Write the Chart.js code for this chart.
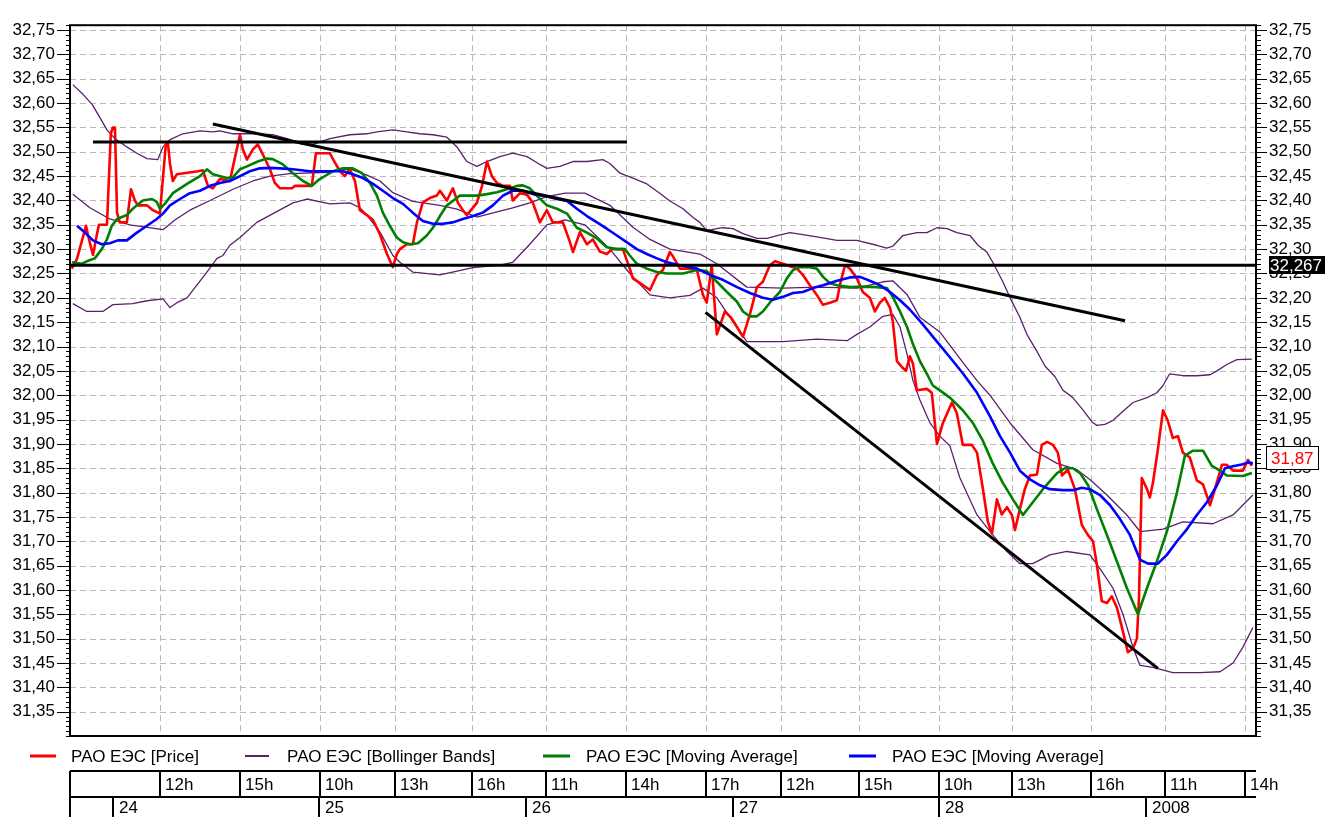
<!DOCTYPE html>
<html>
<head>
<meta charset="utf-8">
<script src="https://cdn.jsdelivr.net/npm/chart.js@4.4.1/dist/chart.umd.min.js"></script>
<style>
  html, body { margin: 0; padding: 0; background: #fff; }
  canvas { display: block; }
</style>
</head>
<body>
<canvas id="c" width="1325" height="817"></canvas>
<script>
// ---- x unit: trading hours (8-hour sessions 10:00-18:00), 0 = day 24, 09:00 ----
const hourTickPos = [3.0, 6.1, 9.19, 12.1, 15.08, 17.94, 21.04, 24.14, 27.04, 30.06, 33.16, 35.98, 39.04, 41.91, 45.01];
const hourTickLabels = ['12h','15h','10h','13h','16h','11h','14h','17h','12h','15h','10h','13h','16h','11h','14h'];
const dayStartPos = [1.17, 9.17, 17.17, 25.17, 33.17, 41.17];
const dayLabels = ['24','25','26','27','28','2008'];
const yTicks = [31.35,31.40,31.45,31.50,31.55,31.60,31.65,31.70,31.75,31.80,31.85,31.90,31.95,32.00,32.05,32.10,32.15,32.20,32.25,32.30,32.35,32.40,32.45,32.50,32.55,32.60,32.65,32.70,32.75];
const seriesNames = ['РАО ЕЭС [Price]','РАО ЕЭС [Bollinger Bands]','РАО ЕЭС [Moving Average]','РАО ЕЭС [Moving Average]'];
const lastPrice = 31.87;
const pivotLevel = 32.267;

const price = [[-0.41,32.26],[-0.21,32.28],[0.14,32.348],[0.21,32.33],[0.41,32.288],[0.56,32.33],[0.64,32.35],[0.95,32.35],[1.10,32.537],[1.18,32.55],[1.26,32.55],[1.34,32.375],[1.45,32.355],[1.72,32.355],[1.88,32.423],[2.03,32.40],[2.15,32.39],[2.50,32.39],[2.73,32.38],[3.00,32.373],[3.23,32.515],[3.31,32.517],[3.39,32.476],[3.50,32.44],[3.66,32.454],[4.47,32.46],[4.66,32.462],[4.86,32.43],[5.05,32.425],[5.32,32.444],[5.71,32.44],[5.83,32.47],[6.10,32.535],[6.21,32.505],[6.37,32.484],[6.60,32.505],[6.79,32.515],[6.99,32.494],[7.26,32.464],[7.45,32.436],[7.65,32.425],[8.11,32.425],[8.23,32.43],[8.88,32.43],[9.04,32.497],[9.58,32.497],[9.70,32.485],[9.97,32.46],[10.16,32.45],[10.35,32.465],[10.55,32.44],[10.74,32.38],[11.01,32.37],[11.25,32.36],[11.52,32.33],[11.79,32.29],[12.02,32.263],[12.17,32.29],[12.29,32.30],[12.56,32.31],[12.79,32.31],[12.95,32.355],[13.18,32.396],[13.45,32.405],[13.72,32.41],[13.84,32.42],[14.11,32.40],[14.34,32.425],[14.54,32.395],[14.73,32.38],[14.88,32.37],[15.27,32.395],[15.47,32.43],[15.66,32.48],[15.85,32.45],[16.05,32.436],[16.28,32.43],[16.55,32.43],[16.66,32.40],[16.94,32.415],[17.21,32.412],[17.44,32.395],[17.71,32.355],[17.98,32.38],[18.21,32.355],[18.60,32.355],[18.87,32.315],[18.99,32.294],[19.26,32.335],[19.53,32.31],[19.76,32.32],[20.03,32.295],[20.30,32.29],[20.50,32.30],[20.92,32.30],[21.19,32.26],[21.31,32.24],[21.70,32.226],[21.97,32.216],[22.24,32.247],[22.47,32.257],[22.74,32.294],[22.86,32.285],[23.13,32.26],[23.52,32.26],[23.79,32.257],[24.02,32.206],[24.17,32.19],[24.36,32.267],[24.56,32.125],[24.87,32.172],[25.10,32.16],[25.34,32.14],[25.57,32.12],[25.84,32.166],[26.11,32.222],[26.34,32.233],[26.61,32.267],[26.81,32.275],[27.12,32.27],[27.39,32.265],[27.66,32.26],[27.89,32.247],[28.16,32.226],[28.43,32.206],[28.66,32.186],[28.94,32.19],[29.21,32.195],[29.32,32.226],[29.52,32.267],[29.71,32.26],[29.98,32.24],[30.21,32.212],[30.48,32.20],[30.68,32.172],[30.87,32.19],[31.06,32.20],[31.26,32.18],[31.37,32.152],[31.53,32.07],[31.72,32.058],[31.88,32.05],[32.03,32.08],[32.15,32.065],[32.30,32.01],[32.69,32.013],[32.88,32.005],[33.08,31.90],[33.31,31.943],[33.66,31.985],[33.85,31.963],[34.08,31.898],[34.43,31.898],[34.63,31.882],[34.86,31.807],[35.05,31.74],[35.21,31.716],[35.40,31.786],[35.59,31.755],[35.79,31.77],[35.98,31.754],[36.10,31.723],[36.29,31.766],[36.48,31.807],[36.68,31.835],[36.95,31.837],[37.14,31.898],[37.34,31.904],[37.57,31.898],[37.76,31.882],[37.92,31.835],[38.15,31.847],[38.42,31.807],[38.69,31.733],[38.92,31.713],[39.12,31.70],[39.27,31.652],[39.46,31.577],[39.66,31.573],[39.85,31.587],[40.05,31.563],[40.24,31.523],[40.47,31.472],[40.67,31.48],[40.82,31.50],[40.90,31.583],[41.01,31.83],[41.21,31.807],[41.32,31.79],[41.44,31.82],[41.63,31.888],[41.83,31.969],[42.02,31.947],[42.21,31.912],[42.41,31.916],[42.60,31.882],[42.87,31.872],[43.14,31.825],[43.38,31.817],[43.65,31.774],[43.84,31.807],[44.11,31.857],[44.30,31.857],[44.54,31.845],[44.92,31.845],[45.12,31.867],[45.27,31.855]];

const fastMA = [[-0.41,32.273],[-0.02,32.27],[0.17,32.275],[0.48,32.281],[0.75,32.30],[0.95,32.32],[1.14,32.348],[1.34,32.362],[1.72,32.37],[1.95,32.383],[2.34,32.40],[2.69,32.403],[2.88,32.397],[3.00,32.383],[3.19,32.393],[3.50,32.415],[4.05,32.434],[4.55,32.45],[4.82,32.464],[5.05,32.454],[5.59,32.446],[5.83,32.448],[6.10,32.464],[6.37,32.47],[6.79,32.48],[7.14,32.486],[7.37,32.485],[7.76,32.474],[8.15,32.456],[8.54,32.44],[8.88,32.43],[9.19,32.444],[9.70,32.46],[10.08,32.466],[10.47,32.466],[10.82,32.456],[11.13,32.436],[11.40,32.41],[11.63,32.375],[11.90,32.348],[12.17,32.324],[12.41,32.314],[12.68,32.31],[12.99,32.312],[13.33,32.328],[13.57,32.344],[13.84,32.368],[14.11,32.39],[14.34,32.399],[14.61,32.41],[15.27,32.41],[15.66,32.413],[16.05,32.417],[16.43,32.423],[16.82,32.43],[17.05,32.431],[17.32,32.425],[17.59,32.41],[17.98,32.39],[18.37,32.383],[18.76,32.373],[19.14,32.344],[19.53,32.334],[19.92,32.322],[20.30,32.304],[20.69,32.30],[21.00,32.30],[21.19,32.287],[21.46,32.27],[21.85,32.26],[22.24,32.253],[22.63,32.25],[23.25,32.25],[23.79,32.257],[24.17,32.255],[24.56,32.233],[24.95,32.212],[25.34,32.192],[25.57,32.172],[25.84,32.162],[26.11,32.162],[26.34,32.172],[26.61,32.19],[27.00,32.212],[27.27,32.24],[27.51,32.257],[27.78,32.263],[28.16,32.263],[28.43,32.26],[28.67,32.243],[28.94,32.23],[29.21,32.226],[29.71,32.222],[30.21,32.223],[30.75,32.222],[31.14,32.22],[31.37,32.202],[31.65,32.172],[31.92,32.14],[32.15,32.105],[32.42,32.07],[32.69,32.044],[32.92,32.02],[33.19,32.01],[33.58,31.995],[34.08,31.969],[34.47,31.943],[34.86,31.906],[35.24,31.86],[35.63,31.82],[36.02,31.786],[36.41,31.754],[36.79,31.78],[37.18,31.807],[37.73,31.84],[38.03,31.85],[38.34,31.85],[38.62,31.84],[38.93,31.815],[39.27,31.766],[39.66,31.713],[40.05,31.658],[40.43,31.604],[40.86,31.55],[41.21,31.604],[41.59,31.658],[41.98,31.72],[42.37,31.80],[42.68,31.876],[42.99,31.886],[43.38,31.886],[43.72,31.855],[44.04,31.845],[44.30,31.835],[44.92,31.834],[45.27,31.84]];

const slowMA = [[-0.21,32.348],[0.10,32.334],[0.41,32.318],[0.75,32.31],[1.06,32.312],[1.37,32.318],[1.72,32.318],[2.11,32.334],[2.50,32.348],[2.88,32.362],[3.12,32.373],[3.39,32.39],[3.78,32.403],[4.16,32.415],[4.55,32.42],[4.94,32.43],[5.32,32.436],[5.71,32.44],[6.10,32.45],[6.48,32.46],[6.87,32.466],[7.26,32.467],[7.65,32.466],[8.15,32.464],[8.81,32.46],[9.58,32.46],[10.08,32.46],[10.47,32.454],[10.86,32.446],[11.25,32.434],[11.63,32.42],[12.02,32.405],[12.41,32.393],[12.79,32.375],[13.18,32.358],[13.57,32.352],[13.95,32.352],[14.34,32.355],[14.73,32.362],[15.12,32.368],[15.50,32.375],[15.89,32.39],[16.28,32.41],[16.66,32.42],[17.05,32.42],[17.44,32.413],[17.83,32.41],[18.37,32.403],[18.76,32.399],[19.14,32.383],[19.53,32.368],[19.92,32.355],[20.30,32.342],[20.69,32.328],[21.08,32.314],[21.46,32.30],[21.85,32.29],[22.24,32.281],[22.63,32.273],[23.13,32.267],[23.79,32.26],[24.29,32.247],[24.79,32.237],[25.34,32.222],[25.84,32.21],[26.34,32.20],[26.73,32.196],[27.12,32.202],[27.51,32.21],[27.89,32.212],[28.28,32.22],[28.67,32.226],[29.21,32.235],[29.71,32.242],[30.10,32.243],[30.48,32.235],[30.87,32.226],[31.26,32.212],[31.65,32.195],[32.03,32.176],[32.54,32.145],[33.08,32.11],[33.58,32.078],[34.08,32.045],[34.63,32.005],[35.13,31.957],[35.52,31.916],[35.91,31.882],[36.29,31.845],[36.68,31.827],[37.07,31.815],[37.45,31.807],[37.96,31.805],[38.34,31.805],[38.69,31.81],[39.00,31.807],[39.39,31.795],[39.78,31.774],[40.16,31.746],[40.55,31.713],[40.94,31.662],[41.25,31.654],[41.63,31.654],[41.98,31.672],[42.37,31.70],[42.76,31.725],[43.14,31.754],[43.53,31.78],[43.92,31.815],[44.23,31.85],[44.54,31.854],[44.92,31.858],[45.12,31.862],[45.31,31.86]];

const bbUpper = [[-0.37,32.638],[0.02,32.618],[0.37,32.598],[0.68,32.57],[0.95,32.545],[1.26,32.527],[1.72,32.51],[2.11,32.497],[2.50,32.486],[2.92,32.484],[3.12,32.51],[3.39,32.525],[3.89,32.537],[4.55,32.543],[5.05,32.541],[5.32,32.543],[5.83,32.537],[6.60,32.537],[7.37,32.535],[7.92,32.527],[8.42,32.517],[8.92,32.515],[9.58,32.527],[10.35,32.535],[11.01,32.537],[11.40,32.541],[12.02,32.545],[12.56,32.541],[13.06,32.537],[13.57,32.535],[14.11,32.53],[14.50,32.51],[14.88,32.48],[15.27,32.47],[15.66,32.48],[16.16,32.49],[16.66,32.497],[17.21,32.49],[17.71,32.474],[17.98,32.466],[18.48,32.47],[18.99,32.48],[19.53,32.48],[20.15,32.484],[20.42,32.476],[20.81,32.456],[21.31,32.446],[21.85,32.434],[22.35,32.415],[22.74,32.399],[23.25,32.383],[23.64,32.365],[23.90,32.355],[24.17,32.338],[24.56,32.342],[24.79,32.344],[25.18,32.342],[25.57,32.332],[26.11,32.322],[26.50,32.322],[26.89,32.328],[27.39,32.334],[27.89,32.33],[28.43,32.325],[29.21,32.318],[29.98,32.318],[30.75,32.308],[31.14,32.302],[31.37,32.306],[31.76,32.328],[32.30,32.334],[32.69,32.334],[33.08,32.344],[33.47,32.342],[33.85,32.334],[34.36,32.328],[34.67,32.308],[35.01,32.294],[35.24,32.273],[35.63,32.233],[35.91,32.20],[36.29,32.16],[36.56,32.125],[36.95,32.09],[37.26,32.06],[37.65,32.038],[37.96,32.01],[38.34,31.995],[38.73,31.97],[39.08,31.945],[39.27,31.938],[39.58,31.94],[39.89,31.948],[40.24,31.965],[40.67,31.985],[41.21,31.995],[41.59,32.005],[41.83,32.02],[42.09,32.044],[42.60,32.04],[43.14,32.04],[43.65,32.042],[43.92,32.05],[44.30,32.063],[44.69,32.073],[45.27,32.074]];

const bbMiddle = [[-0.37,32.413],[0.29,32.385],[1.06,32.362],[1.84,32.35],[3.12,32.34],[3.58,32.36],[4.16,32.38],[4.94,32.40],[5.83,32.423],[6.60,32.44],[7.26,32.45],[8.03,32.455],[9.58,32.458],[10.35,32.465],[11.01,32.452],[11.52,32.44],[12.02,32.416],[12.79,32.398],[13.84,32.39],[14.50,32.382],[15.27,32.366],[16.16,32.378],[16.66,32.385],[17.32,32.395],[17.98,32.408],[18.68,32.415],[19.45,32.415],[20.42,32.39],[21.31,32.345],[21.97,32.32],[22.74,32.30],[23.90,32.29],[24.56,32.27],[25.72,32.222],[27.12,32.22],[28.43,32.222],[29.98,32.22],[30.99,32.233],[31.37,32.235],[31.92,32.207],[32.42,32.16],[33.19,32.13],[33.97,32.075],[34.63,32.03],[35.13,32.0],[35.91,31.943],[36.79,31.888],[37.73,31.86],[38.50,31.847],[39.00,31.827],[39.66,31.795],[40.43,31.754],[40.94,31.72],[41.83,31.725],[42.60,31.74],[43.76,31.736],[44.54,31.754],[45.31,31.795]];

const bbLower = [[-0.37,32.188],[0.17,32.172],[0.79,32.172],[1.18,32.186],[1.95,32.188],[2.50,32.194],[3.12,32.198],[3.39,32.18],[3.66,32.19],[4.05,32.20],[4.43,32.226],[4.82,32.253],[5.21,32.281],[5.44,32.287],[5.71,32.308],[6.10,32.324],[6.75,32.355],[7.45,32.375],[8.15,32.395],[8.69,32.403],[9.58,32.393],[10.35,32.395],[10.74,32.385],[11.01,32.37],[11.52,32.335],[12.02,32.287],[12.29,32.273],[12.79,32.253],[13.84,32.247],[15.12,32.262],[16.16,32.267],[16.66,32.273],[17.32,32.31],[17.98,32.35],[18.68,32.36],[19.45,32.35],[20.42,32.30],[21.19,32.25],[21.97,32.206],[22.74,32.20],[23.52,32.205],[24.02,32.22],[24.56,32.20],[25.07,32.16],[25.72,32.11],[27.12,32.11],[28.43,32.115],[29.60,32.112],[29.98,32.125],[30.48,32.14],[30.99,32.162],[31.37,32.166],[31.65,32.14],[31.92,32.085],[32.15,32.03],[32.42,31.99],[32.81,31.943],[33.19,31.916],[33.58,31.896],[33.97,31.83],[34.63,31.754],[35.24,31.713],[35.79,31.679],[36.29,31.654],[36.79,31.654],[37.45,31.672],[38.11,31.679],[39.00,31.672],[39.39,31.644],[39.89,31.604],[40.28,31.55],[40.67,31.482],[40.94,31.445],[41.44,31.441],[42.21,31.43],[43.25,31.43],[44.04,31.432],[44.54,31.45],[44.92,31.482],[45.31,31.523]];

const rangeTop = [[0.41,32.52],[21.08,32.52]];
const pivotLine = [[-0.48,pivotLevel],[45.43,pivotLevel]];
const resistanceTrend = [[5.05,32.557],[40.36,32.153]];
const supportTrend = [[24.12,32.17],[41.63,31.439]];

const X_MIN = -0.48, X_MAX = 45.43, Y_MIN = 31.30, Y_MAX = 32.76;
const FONT = '17px "Liberation Sans", Arial, sans-serif';
const COLORS = { price: '#ff0000', bb: '#5c1f6e', fast: '#008000', slow: '#0000ff', trend: '#000000', grid: '#b8b8b8' };

const pts = arr => arr.map(p => ({ x: p[0], y: p[1] }));
const line = (data, color, width, order) => ({ data: pts(data), borderColor: color, borderWidth: width, pointRadius: 0, tension: 0, fill: false, order, borderJoinStyle: 'round', borderCapStyle: 'butt' });

const fmt = v => v.toFixed(2).replace('.', ',');

const gridPlugin = {
  id: 'dashGrid',
  beforeDatasetsDraw(chart) {
    const { ctx, chartArea: a, scales: { x, y } } = chart;
    ctx.save();
    ctx.strokeStyle = COLORS.grid; ctx.lineWidth = 1; ctx.setLineDash([6, 4]);
    yTicks.forEach(v => {
      const py = Math.round(y.getPixelForValue(v)) + 0.5;
      ctx.beginPath(); ctx.moveTo(a.left, py); ctx.lineTo(a.right, py); ctx.stroke();
    });
    hourTickPos.forEach(v => {
      const px = Math.round(x.getPixelForValue(v)) + 0.5;
      ctx.beginPath(); ctx.moveTo(px, a.top); ctx.lineTo(px, a.bottom); ctx.stroke();
    });
    ctx.restore();
  }
};

const overlayPlugin = {
  id: 'overlay',
  afterDraw(chart) {
    const { ctx, chartArea: a, scales: { x, y } } = chart;
    ctx.save();
    // plot frame
    ctx.strokeStyle = '#000'; ctx.lineWidth = 2; ctx.setLineDash([]);
    ctx.strokeRect(a.left, a.top, a.right - a.left, a.bottom - a.top);
    // minor / major axis ticks
    ctx.lineWidth = 1;
    for (let i = 0; i <= 146; i++) {
      const v = Y_MIN + i * 0.01;
      const py = Math.round(y.getPixelForValue(v)) + 0.5;
      const major = yTicks.some(t => Math.abs(t - v) < 0.0005);
      ctx.beginPath();
      ctx.moveTo(a.left - (major ? 13 : 4), py); ctx.lineTo(a.left, py);
      ctx.moveTo(a.right, py); ctx.lineTo(a.right + (major ? 11 : 5), py);
      ctx.stroke();
    }
    // pivot value label
    ctx.font = FONT; ctx.textBaseline = 'middle';
    let py = y.getPixelForValue(pivotLevel);
    ctx.fillStyle = '#000';
    ctx.fillRect(a.right + 13, Math.round(py) - 9, 1325 - (a.right + 13), 18);
    ctx.fillStyle = '#fff'; ctx.textAlign = 'left';
    ctx.fillText(pivotLevel.toFixed(3).replace('.', ','), a.right + 14, py + 1);
    // last price label
    py = y.getPixelForValue(lastPrice);
    ctx.fillStyle = '#fff';
    ctx.fillRect(a.right + 10, Math.round(py) - 12, 52, 24);
    ctx.strokeStyle = '#000'; ctx.lineWidth = 1;
    ctx.strokeRect(a.right + 10.5, Math.round(py) - 11.5, 52, 23);
    ctx.fillStyle = COLORS.price;
    ctx.fillText(fmt(lastPrice), a.right + 15, py + 1);

    // legend
    const legendY = 756;
    const legend = [
      { name: seriesNames[0], color: COLORS.price, w: 3, x0: 30, x1: 56, tx: 71 },
      { name: seriesNames[1], color: COLORS.bb, w: 2, x0: 245, x1: 269, tx: 287 },
      { name: seriesNames[2], color: COLORS.fast, w: 3, x0: 543, x1: 570, tx: 586 },
      { name: seriesNames[3], color: COLORS.slow, w: 3, x0: 849, x1: 876, tx: 892 }
    ];
    legend.forEach(l => {
      ctx.strokeStyle = l.color; ctx.lineWidth = l.w;
      ctx.beginPath(); ctx.moveTo(l.x0, legendY); ctx.lineTo(l.x1, legendY); ctx.stroke();
      ctx.fillStyle = '#000'; ctx.textAlign = 'left';
      ctx.fillText(l.name, l.tx, legendY + 1);
    });

    // time table
    const top = 771, mid = 797, bot = 817;
    ctx.strokeStyle = '#000'; ctx.lineWidth = 2;
    ctx.beginPath();
    ctx.moveTo(a.left, top); ctx.lineTo(a.right, top);
    ctx.moveTo(a.left, mid); ctx.lineTo(a.right, mid);
    ctx.moveTo(a.left, top); ctx.lineTo(a.left, bot);
    ctx.stroke();
    ctx.fillStyle = '#000';
    hourTickPos.forEach((v, i) => {
      const px = Math.round(x.getPixelForValue(v));
      ctx.beginPath(); ctx.moveTo(px, top); ctx.lineTo(px, mid); ctx.stroke();
      ctx.fillText(hourTickLabels[i], px + 5, (top + mid) / 2 + 1);
    });
    dayStartPos.forEach((v, i) => {
      const px = Math.round(x.getPixelForValue(v));
      ctx.beginPath(); ctx.moveTo(px, mid); ctx.lineTo(px, bot); ctx.stroke();
      ctx.fillText(dayLabels[i], px + 6, (mid + bot) / 2 + 1);
    });
    ctx.restore();
  }
};

const yAxis = (pos, width) => ({
  type: 'linear', position: pos, min: Y_MIN, max: Y_MAX,
  grid: { display: false, drawTicks: false },
  border: { display: false },
  ticks: { autoSkip: false, padding: pos === 'left' ? 15 : 13, color: '#000', font: { family: '"Liberation Sans", Arial, sans-serif', size: 17 }, callback: v => fmt(v) },
  afterBuildTicks: s => { s.ticks = yTicks.map(v => ({ value: v })); },
  afterFit: s => { s.width = width; }
});

new Chart(document.getElementById('c'), {
  type: 'line',
  data: {
    datasets: [
      line(bbUpper, COLORS.bb, 1.3, 6),
      line(bbMiddle, COLORS.bb, 1.3, 6),
      line(bbLower, COLORS.bb, 1.3, 6),
      line(price, COLORS.price, 2.6, 4),
      line(fastMA, COLORS.fast, 2.6, 3),
      line(slowMA, COLORS.slow, 2.6, 2),
      line(rangeTop, COLORS.trend, 3, 1),
      line(pivotLine, COLORS.trend, 3, 1),
      line(resistanceTrend, COLORS.trend, 3, 1),
      line(supportTrend, COLORS.trend, 3, 1)
    ]
  },
  options: {
    responsive: false, animation: false, devicePixelRatio: 1,
    layout: { padding: { top: 17, bottom: 81, left: 0, right: 0 } },
    plugins: { legend: { display: false }, tooltip: { enabled: false } },
    scales: {
      x: { type: 'linear', min: X_MIN, max: X_MAX, display: false },
      y: yAxis('left', 70),
      y2: yAxis('right', 69)
    }
  },
  plugins: [gridPlugin, overlayPlugin]
});
</script>
</body>
</html>
